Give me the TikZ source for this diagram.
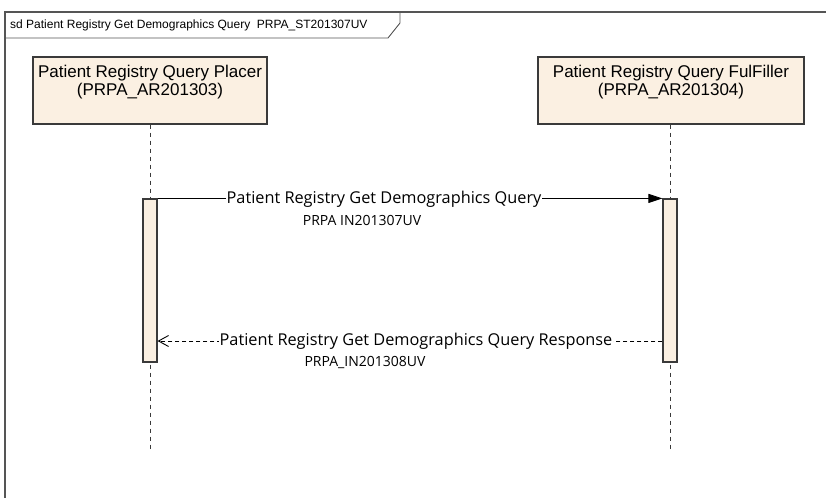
\documentclass[tikz,border=0pt]{standalone}
\usepackage{fontspec}
\setmainfont{Liberation Sans}
\newfontfamily\msgfont{Open Sans}
\usetikzlibrary{arrows.meta}
\definecolor{boxfill}{HTML}{FBF0E2}
\definecolor{edge}{HTML}{3A3A3A}
\definecolor{framec}{HTML}{555555}
\tikzset{
  lifebox/.style={draw=edge, line width=1.2pt, fill=boxfill, minimum width=234pt, minimum height=67pt, inner sep=0pt},
  boxtext/.style={font=\fontsize{17}{18}\selectfont, align=center, inner sep=0pt, text=black},
  actbar/.style={draw=edge, line width=1.2pt, fill=boxfill, minimum width=14pt, minimum height=163pt, inner sep=0pt},
  lifeline/.style={draw=edge, line width=0.9pt, dash pattern=on 4pt off 4pt},
  msgtext/.style={font=\msgfont\fontsize{16.3}{18}\selectfont, inner sep=1pt, text=black},
  msgsub/.style={font=\msgfont\fontsize{14}{18}\selectfont, inner sep=1pt, text=black},
  callmsg/.style={draw=black, line width=0.9pt, -{Triangle[length=14pt,width=9pt]}},
  replymsg/.style={draw=black, line width=0.9pt, dash pattern=on 4pt off 3pt, -{Straight Barb[length=10pt,width=11pt]}},
}
\begin{document}
\begin{tikzpicture}[x=1pt,y=-1pt]
\useasboundingbox (0,0) rectangle (826,498);
\fill[white] (0,0) rectangle (826,498);
% frame
\draw[framec, line width=1.4pt] (826,12) -- (5,12) -- (5,498);
\draw[framec, line width=0.9pt] (5,38) -- (388,38) -- (400,23) -- (400,12);
\node[anchor=west, font=\fontsize{12}{14}\selectfont, inner sep=0pt] (title) at (10,25.5) {sd Patient Registry Get Demographics Query\ \ PRPA\_ST201307UV};
% lifeline heads
\node[lifebox] (A) at (150,90.5) {};
\node[boxtext, anchor=north] (Atext) at ([yshift=-9pt]A.north) {Patient Registry Query Placer\\(PRPA\_AR201303)};
\node[lifebox, minimum width=266pt] (B) at (671,90.5) {};
\node[boxtext, anchor=north] (Btext) at ([yshift=-9pt]B.north) {Patient Registry Query FulFiller\\(PRPA\_AR201304)};
% lifelines
\coordinate (Aend) at (150,452);
\coordinate (Bend) at (670,452);
\draw[lifeline] (A.south) -- (Aend);
\draw[lifeline] (B.south -| Bend) -- (Bend);
% activation bars
\node[actbar] (Abar) at (150,280.5) {};
\node[actbar] (Bbar) at (670,280.5) {};
% message 1
\draw[callmsg] (Abar.north east) -- (Bbar.north west);
\node[msgtext, fill=white] (m1) at (384,199) {Patient Registry Get Demographics Query};
\node[msgsub] (m1b) at (362,220) {PRPA IN201307UV};
% message 2
\coordinate (r1) at ([yshift=-60.5pt]Bbar.west);
\coordinate (r2) at ([yshift=-60.5pt]Abar.east);
\draw[replymsg] (r1) -- (r2);
\node[msgtext, fill=white] (m2) at (416,341) {Patient Registry Get Demographics Query Response};
\node[msgsub] (m2b) at (365,362) {PRPA\_IN201308UV};
\end{tikzpicture}
\end{document}
